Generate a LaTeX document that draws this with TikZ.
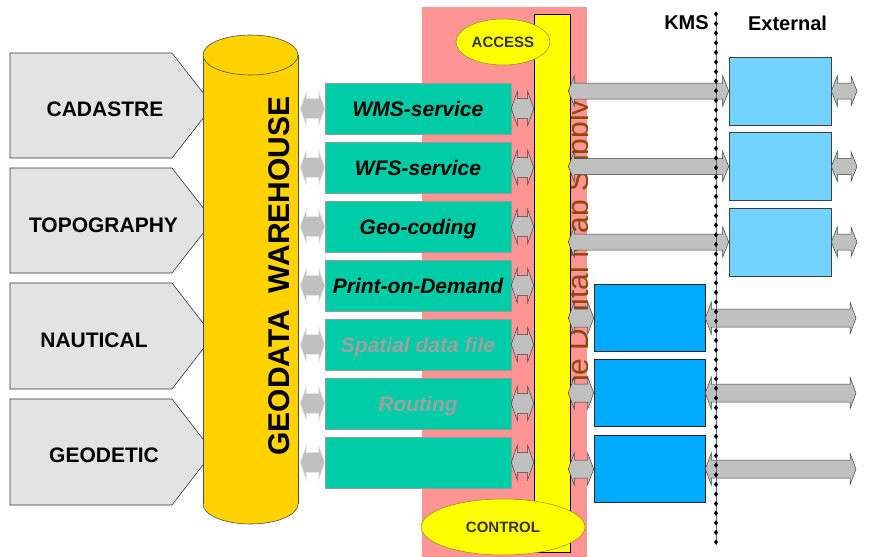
\documentclass[tikz,border=0pt]{standalone}
\usepackage{fontspec}
\setmainfont{Liberation Sans}
\usetikzlibrary{shapes.geometric,calc}
\definecolor{pentfill}{HTML}{E3E3E3}
\definecolor{gold}{HTML}{FFD200}
\definecolor{svcgreen}{HTML}{00CCA8}
\definecolor{pinkbg}{HTML}{FF9494}
\definecolor{baryellow}{HTML}{FFFF00}
\definecolor{browntext}{HTML}{8C4A06}
\definecolor{lblue}{HTML}{73D3FF}
\definecolor{dblue}{HTML}{00AAFF}
\definecolor{arrgray}{HTML}{C0C0C0}
\definecolor{svcgray}{HTML}{A0A0A0}
\definecolor{ellline}{HTML}{8A8A20}
\newcommand\pxfont[1]{\fontsize{#1}{#1}\selectfont}
\newcommand\fatarrow[6][fatarr]{%
  \path[#1] let \p1=#2, \p2=#3 in
    (\x1,\y1) -- ({\x1+#6pt},{\y1+#5pt}) -- ({\x1+#6pt},{\y1+#4pt})
    -- ({\x2-#6pt},{\y1+#4pt}) -- ({\x2-#6pt},{\y1+#5pt}) -- (\x2,\y1)
    -- ({\x2-#6pt},{\y1-#5pt}) -- ({\x2-#6pt},{\y1-#4pt})
    -- ({\x1+#6pt},{\y1-#4pt}) -- ({\x1+#6pt},{\y1-#5pt}) -- cycle;}
\tikzset{
  pent/.style={fill=pentfill, draw=black!80, line width=0.6pt},
  pentlab/.style={font=\pxfont{21}\bfseries, inner sep=0pt},
  svc/.style={rectangle, fill=svcgreen, draw=black!40, line width=0.5pt,
    minimum width=186pt, minimum height=51pt, inner sep=0pt,
    text height=15.2pt, text depth=0pt, font=\pxfont{21}\bfseries\itshape},
  svcdim/.style={svc, text=svcgray},
  extbox/.style={rectangle, fill=lblue, draw=black!75, line width=0.6pt,
    minimum width=102pt, minimum height=68pt, inner sep=0pt},
  intbox/.style={rectangle, fill=dblue, draw=black!85, line width=0.6pt,
    minimum width=111pt, minimum height=67pt, inner sep=0pt},
  fatarr/.style={fill=arrgray, draw=black!75, line width=0.5pt},
  softarr/.style={fill=arrgray, draw=white!80!gray, line width=0.7pt},
  cylline/.style={draw=black!70, line width=0.6pt},
  ovalbox/.style={ellipse, fill=baryellow, draw=ellline, line width=0.5pt,
    inner sep=0pt, text=black!80, font=\pxfont{15}\bfseries},
  toplab/.style={font=\pxfont{20}\bfseries, inner sep=0pt},
}
\begin{document}
\begin{tikzpicture}[x=1pt,y=-1pt]
\useasboundingbox (0,0) rectangle (887,557);
% pink background band
\fill[pinkbg] (422,7) rectangle (587,557);
% source pentagons
\path[pent] (10,53) -- (172,53) -- (213,105.5) -- (172,158) -- (10,158) -- cycle;
\path[pent] (10,168) -- (172,168) -- (213,220.5) -- (172,273) -- (10,273) -- cycle;
\path[pent] (10,283) -- (172,283) -- (213,336) -- (172,389) -- (10,389) -- cycle;
\path[pent] (10,399) -- (172,399) -- (213,452) -- (172,505) -- (10,505) -- cycle;
\node[pentlab] (cad) at (105,109.5) {CADASTRE};
\node[pentlab] (topo) at (103.5,225) {TOPOGRAPHY};
\node[pentlab] (naut) at (94,340.5) {NAUTICAL};
\node[pentlab] (geod) at (104,455) {GEODETIC};
% cylinder
\fill[gold] (203,55) rectangle (298,504);
\fill[gold] (250.5,504) ellipse [x radius=47.5pt, y radius=20pt];
\draw[cylline] (203,55) -- (203,504);
\draw[cylline] (298,55) -- (298,504);
\begin{scope}
  \clip (200,504) rectangle (301,530);
  \draw[cylline] (250.5,504) ellipse [x radius=47.5pt, y radius=20pt];
\end{scope}
\filldraw[fill=gold, cylline] (250.5,55) ellipse [x radius=47.5pt, y radius=20pt];
\node[minimum width=95pt, minimum height=449pt, inner sep=0pt] (wh) at (250.5,279.5) {};
\node[rotate=90, font=\pxfont{30}\bfseries, inner sep=0pt] (whlab) at (279,276) {GEODATA\ \ WAREHOUSE};
% services
\node[svc] (s1) at (418,108.5) {WMS-service};
\node[svc] (s2) at (418,167.5) {WFS-service};
\node[svc] (s3) at (418,226.5) {Geo-coding};
\node[svc] (s4) at (418,285.5) {Print-on-Demand};
\node[svcdim] (s5) at (418,344.5) {Spatial data file};
\node[svcdim] (s6) at (418,403.5) {Routing};
\node[svc] (s7) at (418,462.5) {};
% rotated supply text
\begin{scope}
  \clip (560,7) rectangle (587,557);
  \node[rotate=90, anchor=base, text=browntext, font=\pxfont{30}, inner sep=0pt] (dms) at (588,255) {The Digital Map Supply};
\end{scope}
% yellow bar
\node[rectangle, fill=baryellow, draw=black, line width=0.6pt, minimum width=36pt, minimum height=538pt, inner sep=0pt] (bar) at (552,283) {};
% access / control
\node[ovalbox, minimum width=94pt, minimum height=46pt] (acc) at (503,42) {ACCESS};
\node[ovalbox, minimum width=164pt, minimum height=56pt] (ctl) at (503,527) {CONTROL};
% external and internal boxes
\node[extbox] (e1) at (780,91) {};
\node[extbox] (e2) at (780,166.5) {};
\node[extbox] (e3) at (780,242) {};
\node[intbox] (i1) at (649.5,318) {};
\node[intbox] (i2) at (649.5,393) {};
\node[intbox] (i3) at (649.5,469) {};
\coordinate (eo1) at (857,91);
\coordinate (eo2) at (857,166.5);
\coordinate (eo3) at (857,242);
\coordinate (io1) at (856,318);
\coordinate (io2) at (856,393);
\coordinate (io3) at (856,469);
% arrows warehouse -> services, services -> bar
\foreach \s in {s1,s2,s3,s4,s5,s6,s7}{
  \fatarrow[softarr]{($(wh.east |- \s.west)+(2,0)$)}{(\s.west)}{10}{17}{6}
  \fatarrow{(\s.east)}{(bar.west |- \s.east)}{10}{17}{6}
}
% arrows bar -> external -> out
\foreach \e/\o in {e1/eo1,e2/eo2,e3/eo3}{
  \fatarrow{($(bar.east |- \e.west)+(-2,0)$)}{(\e.west)}{8}{15}{6}
  \fatarrow{(\e.east)}{(\o)}{8}{15}{6}
}
% arrows bar -> internal -> out
\foreach \i/\o in {i1/io1,i2/io2,i3/io3}{
  \fatarrow{($(bar.east |- \i.west)+(-2,0)$)}{(\i.west)}{9}{16}{6}
  \fatarrow{(\i.east)}{(\o)}{9}{16}{6}
}
% KMS boundary
\coordinate (kmstop) at (716,14);
\coordinate (kmsbot) at (716,545);
\draw[black!60, line width=1pt] (kmstop) -- (kmsbot);
\foreach \k in {0,...,55}{
  \pgfmathsetmacro\yy{14+9.6*\k}
  \fill[black] (716,\yy) +(0,-2.6) -- +(2.1,0) -- +(0,2.6) -- +(-2.1,0) -- cycle;
}
\node[toplab] (kms) at (686.5,23) {KMS};
\node[toplab] (extl) at (787.5,23) {External};
\end{tikzpicture}
\end{document}
